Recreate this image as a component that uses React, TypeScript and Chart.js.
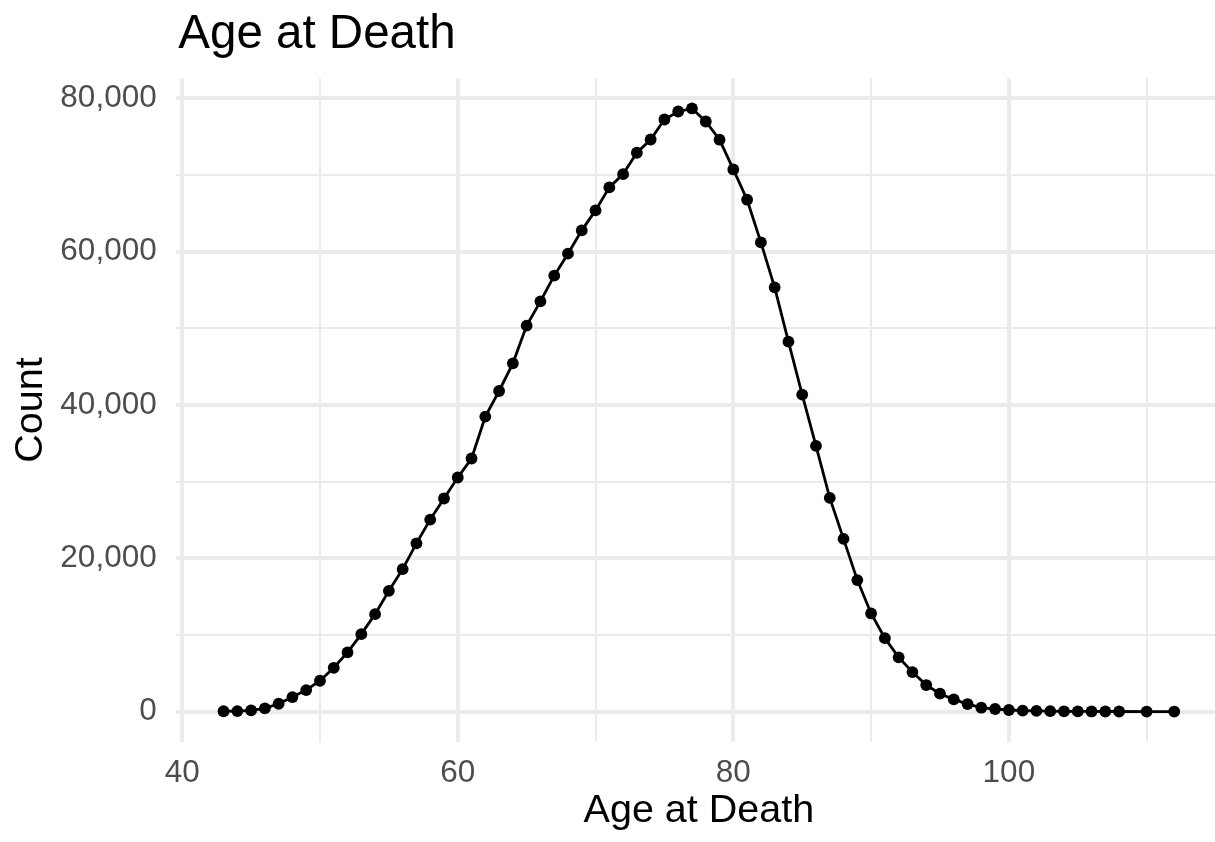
import React, { useEffect, useRef } from "react";
import { Chart, registerables } from "chart.js";

Chart.register(...registerables);

const ages: number[] = [
  43, 44, 45, 46, 47, 48, 49, 50, 51, 52, 53, 54, 55, 56, 57, 58, 59, 60,
  61, 62, 63, 64, 65, 66, 67, 68, 69, 70, 71, 72, 73, 74, 75, 76, 77, 78,
  79, 80, 81, 82, 83, 84, 85, 86, 87, 88, 89, 90, 91, 92, 93, 94, 95, 96,
  97, 98, 99, 100, 101, 102, 103, 104, 105, 106, 107, 108, 110, 112,
];

const counts: number[] = [
  40, 60, 150, 420, 1020, 1890, 2800, 4020, 5710, 7720, 10100, 12710, 15750,
  18580, 21950, 25050, 27800, 30540, 33020, 38490, 41830, 45440, 50360, 53530,
  56880, 59750, 62790, 65400, 68400, 70130, 72920, 74650, 77260, 78300, 78700,
  77000, 74620, 70740, 66790, 61220, 55350, 48270, 41360, 34660, 27880, 22530,
  17150, 12800, 9580, 7070, 5150, 3460, 2330, 1590, 980, 500, 330, 200, 130,
  80, 50, 35, 20, 12, 8, 5, 2, 1,
];

const xTicks: number[] = [40, 50, 60, 70, 80, 90, 100, 110];
const xMajor: number[] = [40, 60, 80, 100];
const yTicks: number[] = [0, 10000, 20000, 30000, 40000, 50000, 60000, 70000, 80000];
const yMajor: number[] = [0, 20000, 40000, 60000, 80000];

const titleText = "Age at Death";
const xTitle = "Age at Death";
const yTitle = "Count";

const FONT = "'Liberation Sans', Arial, Helvetica, sans-serif";

export default function App() {
  const ref = useRef<HTMLCanvasElement | null>(null);

  useEffect(() => {
    if (!ref.current) return;
    const textPlugin = {
      id: "ggText",
      afterDraw(chart: any) {
        const { ctx, chartArea } = chart;
        ctx.save();
        ctx.fillStyle = "#000000";
        ctx.textBaseline = "alphabetic";
        ctx.font = `47.5px ${FONT}`;
        ctx.textAlign = "left";
        ctx.fillText(titleText, 178.3, 48.3);
        ctx.font = `39.5px ${FONT}`;
        ctx.textAlign = "center";
        const xs = chart.scales.x;
        const cx = (chartArea.left + xs.getPixelForValue(115.45)) / 2;
        ctx.fillText(xTitle, cx, 821.7);
        ctx.translate(41.7, (chartArea.top + chartArea.bottom) / 2);
        ctx.rotate(-Math.PI / 2);
        ctx.fillText(yTitle, 0, 0);
        ctx.restore();
      },
    };

    const chart = new Chart(ref.current, {
      type: "line",
      data: {
        datasets: [
          {
            data: ages.map((a, i) => ({ x: a, y: counts[i] })),
            borderColor: "#000000",
            backgroundColor: "#000000",
            borderWidth: 2.8,
            pointRadius: 5.9,
            pointBorderWidth: 0,
            pointBackgroundColor: "#000000",
            tension: 0,
            clip: false as any,
          },
        ],
      },
      options: {
        responsive: false,
        animation: false,
        layout: { autoPadding: false, padding: { top: 78.3, left: 0, right: 0, bottom: 0 } },
        plugins: {
          legend: { display: false },
          title: { display: false },
          tooltip: { enabled: false },
        },
        scales: {
          x: {
            type: "linear",
            min: 39.55,
            max: 114.96,
            afterBuildTicks: (s: any) => {
              s.ticks = xTicks.map((v) => ({ value: v }));
            },
            afterFit: (s: any) => {
              s.height = 100.3;
              s.paddingLeft = 0;
              s.paddingRight = 0;
            },
            border: { display: false },
            grid: {
              color: "#ebebeb",
              drawTicks: false,
              lineWidth: (c: any) =>
                c.tick && xMajor.includes(c.tick.value) ? 4 : 2,
            },
            ticks: {
              autoSkip: false,
              maxRotation: 0,
              padding: 13,
              color: "#4d4d4d",
              font: { family: FONT, size: 31.5 },
              callback: (v: any) => (xMajor.includes(Number(v)) ? String(v) : ""),
            },
          },
          y: {
            type: "linear",
            min: -3935,
            max: 82635,
            afterBuildTicks: (s: any) => {
              s.ticks = yTicks.map((v) => ({ value: v }));
            },
            afterFit: (s: any) => {
              s.width = 176;
              s.paddingTop = 0;
              s.paddingBottom = 0;
            },
            border: { display: false },
            grid: {
              color: "#ebebeb",
              drawTicks: false,
              lineWidth: (c: any) =>
                c.tick && yMajor.includes(c.tick.value) ? 4 : 2,
            },
            ticks: {
              autoSkip: false,
              padding: 19.3,
              color: "#4d4d4d",
              font: { family: FONT, size: 31.5 },
              callback: (v: any) =>
                yMajor.includes(Number(v)) ? Number(v).toLocaleString("en-US") : "",
            },
          },
        },
      },
      plugins: [textPlugin],
    });
    return () => chart.destroy();
  }, []);

  return (
    <div style={{ position: "absolute", left: 0, top: 0, width: 1215, height: 842, background: "#ffffff" }}>
      <canvas ref={ref} width={1215} height={842} />
    </div>
  );
}
